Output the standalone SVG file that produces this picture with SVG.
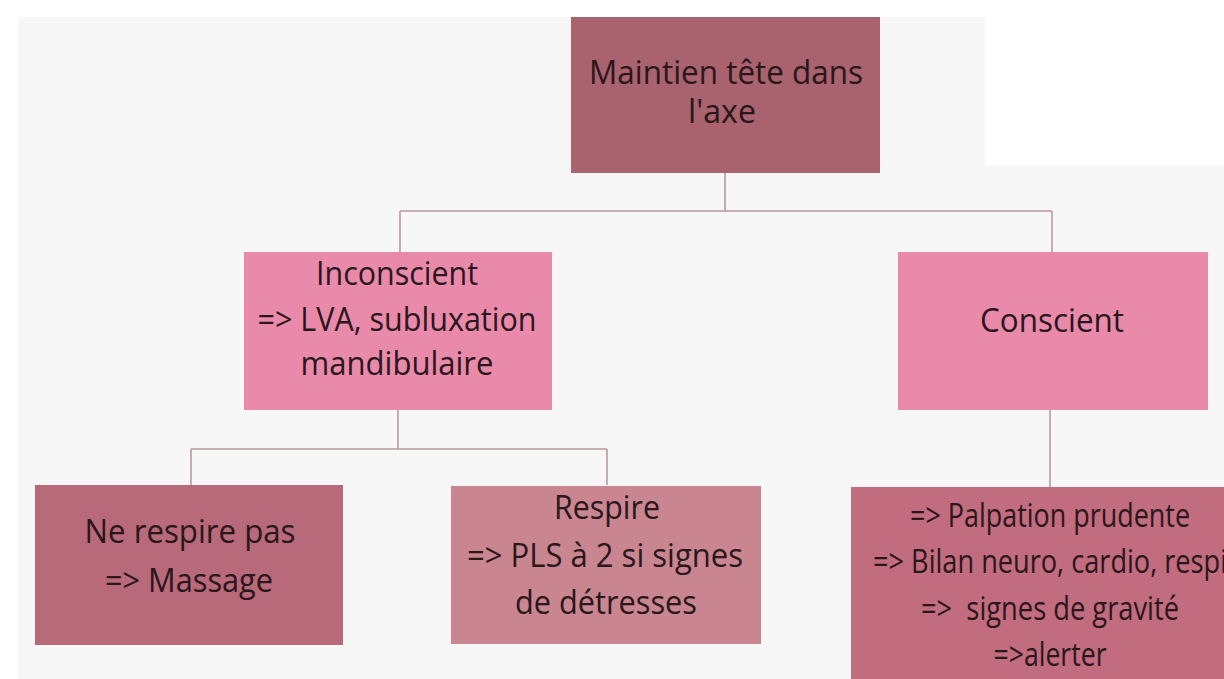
<svg xmlns="http://www.w3.org/2000/svg" width="1224" height="679" viewBox="0 0 1224 679">
<style>
.t{font-family:"Open Sans","Liberation Sans",sans-serif;font-size:32px;fill:#2a161b;text-anchor:middle;}
.c{fill:none;stroke:#b9989f;stroke-width:1.6;}
</style>
<rect x="0" y="0" width="1224" height="679" fill="#ffffff"/>
<path d="M18 17 H985 V165 H1224 V679 H18 Z" fill="#f7f7f7"/>
<g id="connectors">
<path class="c" d="M725 172 V211 M400 211 H1052 M400 211 V252 M1052 211 V252"/>
<path class="c" d="M398 410 V449 M191 449 H607 M191 449 V485 M607 449 V485"/>
<path class="c" d="M1050 410 V487"/>
</g>
<g id="node-maintien">
<rect x="571" y="17" width="309" height="156" fill="#a8636e"/>
<text class="t" x="726" y="84" textLength="274" lengthAdjust="spacingAndGlyphs">Maintien tête dans</text>
<text class="t" x="722" y="123" textLength="68" lengthAdjust="spacingAndGlyphs">l'axe</text>
</g>
<g id="node-inconscient">
<rect x="244" y="252" width="308" height="158" fill="#e98aab"/>
<text class="t" x="397" y="285" textLength="162" lengthAdjust="spacingAndGlyphs">Inconscient</text>
<text class="t" x="397" y="331" textLength="279" lengthAdjust="spacingAndGlyphs">=&gt; LVA, subluxation</text>
<text class="t" x="397" y="375" textLength="193" lengthAdjust="spacingAndGlyphs">mandibulaire</text>
</g>
<g id="node-conscient">
<rect x="898" y="252" width="310" height="158" fill="#e98aab"/>
<text class="t" x="1052" y="332" textLength="144" lengthAdjust="spacingAndGlyphs">Conscient</text>
</g>
<g id="node-ne-respire-pas">
<rect x="35" y="485" width="308" height="160" fill="#b8697a"/>
<text class="t" x="190" y="543" textLength="211" lengthAdjust="spacingAndGlyphs">Ne respire pas</text>
<text class="t" x="189" y="592" textLength="168" lengthAdjust="spacingAndGlyphs">=&gt; Massage</text>
</g>
<g id="node-respire">
<rect x="451" y="486" width="310" height="158" fill="#c98690"/>
<text class="t" x="607" y="519" textLength="106" lengthAdjust="spacingAndGlyphs">Respire</text>
<text class="t" x="605" y="567" textLength="276" lengthAdjust="spacingAndGlyphs">=&gt; PLS à 2 si signes</text>
<text class="t" x="606" y="614" textLength="182" lengthAdjust="spacingAndGlyphs">de détresses</text>
</g>
<g id="node-conscient-actions">
<rect x="851" y="487" width="400" height="200" fill="#c26c7f"/>
<text class="t" x="1050" y="527" textLength="280" lengthAdjust="spacingAndGlyphs">=&gt; Palpation prudente</text>
<text class="t" x="1050" y="573" textLength="354" lengthAdjust="spacingAndGlyphs">=&gt; Bilan neuro, cardio, respi</text>
<text class="t" x="1050" y="620" textLength="258" lengthAdjust="spacingAndGlyphs" xml:space="preserve">=&gt;  signes de gravité</text>
<text class="t" x="1050" y="666" textLength="113" lengthAdjust="spacingAndGlyphs">=&gt;alerter</text>
</g>
</svg>
